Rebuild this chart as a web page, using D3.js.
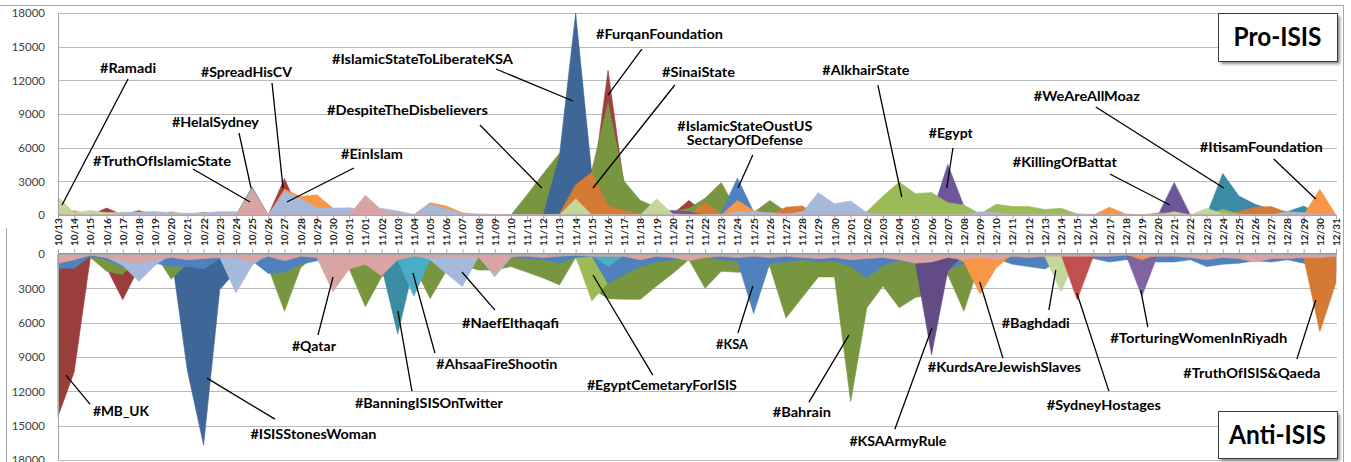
<!DOCTYPE html>
<html><head><meta charset="utf-8">
<script src="https://cdn.jsdelivr.net/npm/d3@7"></script>
<style>
body{margin:0;background:#fff}
svg{display:block}
text{font-family:Lato,"Open Sans",sans-serif}
</style></head>
<body><svg id="c" width="1351" height="462"></svg>
<script>
// ---------- categories ----------
const dates = ["10/13","10/14","10/15","10/16","10/17","10/18","10/19","10/20","10/21","10/22","10/23","10/24","10/25","10/26","10/27","10/28","10/29","10/30","10/31",
"11/01","11/02","11/03","11/04","11/05","11/06","11/07","11/08","11/09","11/10","11/11","11/12","11/13","11/14","11/15","11/16","11/17","11/18","11/19","11/20","11/21","11/22","11/23","11/24","11/25","11/26","11/27","11/28","11/29","11/30",
"12/01","12/02","12/03","12/04","12/05","12/06","12/07","12/08","12/09","12/10","12/11","12/12","12/13","12/14","12/15","12/16","12/17","12/18","12/19","12/20","12/21","12/22","12/23","12/24","12/25","12/26","12/27","12/28","12/29","12/30","12/31"];
const yTicks = [0,3000,6000,9000,12000,15000,18000];

// ---------- Pro-ISIS series (date, tweets); days not listed = 0 ----------
const proRed = [["10/16",620],["10/18",400],["10/27",3250],["11/15",2000],["11/16",12900],["11/17",2500],["11/20",100],["11/21",1300],["11/22",200]];
const proOlive = [["10/22",250],["11/11",1800],["11/12",3700],["11/13",5500],["11/14",4800],["11/15",4000],["11/16",10000],["11/17",3000],["11/18",1300],["11/19",700],["11/20",300],["11/21",600],["11/22",1500],["11/23",2900],["11/24",300],["11/25",200],["11/26",1300],["11/27",300],["11/28",100]];
const proDarkBlue = [["11/13",5300],["11/14",18000],["11/15",3600]];
const proBlue = [["11/23",200],["11/24",3300],["11/25",300]];
const proTeal = [["10/25",2500],["12/24",3700],["12/25",1700],["12/26",950],["12/27",500],["12/28",300],["12/29",800]];
const proDarkOrange = [["11/13",100],["11/14",2700],["11/15",3800],["11/16",800],["11/17",400],["11/18",100],["11/22",1100],["11/23",100],["11/27",700],["11/28",800],["12/25",300],["12/26",700],["12/27",750],["12/28",200]];
const proOrange = [["10/14",400],["10/20",300],["10/27",2300],["10/28",1650],["10/29",1800],["10/30",600],["11/05",1100],["11/06",800],["11/07",200],["11/24",1300],["11/25",400],["12/07",450],["12/08",100],["12/17",700],["12/18",100],["12/30",2300]];
const proPurple = [["11/19",300],["11/20",400],["11/21",300],["12/07",4500],["12/08",800],["12/21",2900]];
const proGreen = [["10/16",200],["12/02",300],["12/03",1700],["12/04",2950],["12/05",1900],["12/06",2000],["12/07",1100],["12/08",900],["12/09",100],["12/10",950],["12/11",750],["12/12",750],["12/13",500],["12/14",600],["12/15",100],["12/20",200],["12/21",100],["12/24",500],["12/25",100]];
const proSage = [["10/13",1600],["10/14",200],["10/15",400],["10/16",200],["10/17",250],["10/18",250],["10/19",300],["10/20",150],["10/21",100],["10/22",100],["11/14",1450],["11/19",1450],["11/20",100],["11/28",300],["11/29",100],["12/21",300],["12/23",600],["12/24",100]];
const proBlueGray = [["10/17",200],["10/18",250],["10/19",300],["10/20",200],["10/21",150],["10/22",200],["10/23",300],["10/24",300],["10/25",300],["10/27",2100],["10/28",1450],["10/29",650],["10/30",600],["10/31",650],["11/01",400],["11/02",600],["11/03",350],["11/04",50],["11/05",950],["11/06",550],["11/07",150],["11/08",100],["11/09",50],["11/10",50],["11/24",300],["11/25",300],["11/26",200],["11/27",100],["11/28",200],["11/29",2000],["11/30",1000],["12/01",1250],["12/02",200],["12/09",300],["12/10",200],["12/15",100],["12/16",50],["12/28",300],["12/29",200]];
const proPink = [["10/25",2350],["11/01",1750],["11/02",450]];

// ---------- Anti-ISIS series ----------
const antiRed = [["10/13",14200],["10/14",10300],["10/15",300],["10/16",1200],["10/17",4000],["10/18",1200]];
const antiDarkBlue = [["10/21",10200],["10/22",16700],["10/23",3100],["10/24",1500]];
const antiOlive = [["10/15",300],["10/16",1500],["10/17",1800],["10/18",200],["10/20",2200],["10/21",800],["10/26",1200],["10/27",5000],["10/28",1200],["10/31",1300],["11/01",4600],["11/02",2000],["11/03",1000],["11/04",1000],["11/05",3900],["11/06",1500],["11/07",1000],["11/08",1400],["11/09",1400],["11/10",1100],["11/11",1600],["11/12",2100],["11/13",2700],["11/14",300],["11/15",3000],["11/16",3900],["11/17",3950],["11/18",3950],["11/19",2800],["11/20",1700],["11/21",500],["11/22",3000],["11/23",1500],["11/24",1600],["11/25",1500],["11/26",1100],["11/27",5600],["11/28",3800],["11/29",2000],["11/30",2000],["12/01",12900],["12/02",4700],["12/03",2800],["12/04",4700],["12/05",3800],["12/06",3500],["12/07",1800],["12/08",5000],["12/09",700]];
const antiGreen = [["11/14",200],["11/15",4100],["11/16",2500]];
const antiTeal = [["11/02",1100],["11/03",7000],["11/04",1000]];
const antiBlue = [["10/13",1250],["10/14",1250],["10/15",200],["10/16",500],["10/17",1100],["10/18",500],["10/19",800],["10/20",1100],["10/21",1100],["10/22",1300],["10/23",400],["10/24",200],["10/25",600],["10/26",1700],["10/27",1600],["10/28",900],["10/29",600],["10/30",300],["10/31",300],["11/01",200],["11/02",200],["11/03",600],["11/04",400],["11/05",700],["11/06",200],["11/07",100],["11/08",300],["11/09",200],["11/10",300],["11/11",400],["11/12",500],["11/13",800],["11/14",300],["11/15",200],["11/16",2600],["11/17",1800],["11/18",1100],["11/19",700],["11/20",500],["11/21",400],["11/22",300],["11/23",500],["11/24",600],["11/25",5200],["11/26",800],["11/27",700],["11/28",500],["11/29",700],["11/30",600],["12/01",1100],["12/02",2100],["12/03",1000],["12/04",600],["12/05",800],["12/06",1300],["12/07",1400],["12/08",800],["12/09",500],["12/10",400],["12/11",900],["12/12",1100],["12/13",1300],["12/14",500],["12/15",300],["12/16",400],["12/17",700],["12/18",500],["12/19",600],["12/20",700],["12/21",700],["12/22",500],["12/23",1100],["12/24",900],["12/25",800],["12/26",600],["12/27",700],["12/28",500],["12/29",800],["12/30",1500],["12/31",1700]];
const antiAqua = [["11/02",200],["11/03",600],["11/04",3700],["11/05",500],["11/15",100],["11/16",1100],["11/17",100]];
const antiBlueGray = [["10/16",300],["10/17",1000],["10/18",2400],["10/19",1000],["10/23",300],["10/24",3400],["10/25",1000],["11/05",500],["11/06",1700],["11/07",2850],["11/08",200],["11/09",2000],["11/10",300]];
const antiDarkPurple = [["12/05",800],["12/06",8800],["12/07",1500]];
const antiPurple = [["12/19",3700]];
const antiOrange = [["12/08",700],["12/09",3500],["12/10",1200],["12/19",500]];
const antiSage = [["12/13",200],["12/14",3300],["12/15",200]];
const antiRed2 = [["12/15",4000],["12/16",200]];
const antiDarkOrange = [["12/29",300],["12/30",6800],["12/31",2500]];
const antiPink = [["10/13",800],["10/14",500],["10/15",100],["10/16",300],["10/17",600],["10/18",800],["10/19",500],["10/20",300],["10/21",500],["10/22",400],["10/23",300],["10/24",300],["10/25",700],["10/26",200],["10/27",600],["10/28",200],["10/29",300],["10/30",3300],["10/31",1300],["11/01",900],["11/02",1900],["11/03",500],["11/04",200],["11/05",300],["11/06",200],["11/07",300],["11/08",300],["11/09",1800],["11/10",200],["11/11",200],["11/12",300],["11/13",200],["11/14",100],["11/15",200],["11/16",200],["11/17",200],["11/18",500],["11/19",200],["11/20",300],["11/21",600],["11/22",300],["11/23",200],["11/24",300],["11/25",200],["11/26",300],["11/27",200],["11/28",300],["11/29",400],["11/30",300],["12/01",500],["12/02",400],["12/03",300],["12/04",500],["12/05",800],["12/06",700],["12/07",300],["12/08",500],["12/09",300],["12/10",500],["12/11",200],["12/12",300],["12/13",200],["12/14",200],["12/15",200],["12/16",200],["12/17",200],["12/18",100],["12/19",200],["12/20",200],["12/21",200],["12/22",300],["12/23",500],["12/24",300],["12/25",400],["12/26",700],["12/27",400],["12/28",400],["12/29",300],["12/30",300],["12/31",200]];

// ---------- annotations: [label, labelDayIndex, labelValue, lineStartDay, lineStartValue, lineEndDay, lineEndValue] ----------
const proNotes = [
 ["#Ramadi",4.33,12652,4.33,12118,0.25,891],
 ["#SpreadHisCV",11.65,12296,13.23,11761,13.91,2406],
 ["#HelalSydney",9.73,7841,11.19,7306,11.93,2406],
 ["#TruthOfIslamicState",6.43,4366,8.34,4099,11.87,1158],
 ["#EinIslam",19.41,4990,18.29,4188,14.15,1158],
 ["#IslamicStateToLiberateKSA",22.53,13454,27.07,13009,31.83,10157],
 ["#DespiteTheDisbelievers",21.6,8910,26.08,8019,29.91,2406],
 ["#FurqanFoundation",37.18,15682,36.09,14791,33.99,10692],
 ["#SinaiState",39.59,12296,38.13,11583,33.07,2406],
 ["#IslamicStateOustUS|SectaryOfDefense",42.46,7484,42.95,5346,42.03,2406],
 ["#AlkhairState",49.94,12474,50.68,11583,52.16,1604],
 ["#Egypt",55.19,6861,55.32,5970,54.94,2406],
 ["#KillingOfBattat",62.24,4277,65.02,3653,68.73,891],
 ["#WeAreAllMoaz",63.6,10157,64.15,9623,72.06,2406],
 ["#ItisamFoundation",74.38,5613,75.15,4990,77.75,1426]
];
const antiNotes = [
 ["#MB_UK",3.89,14169,1.98,13119,0.49,10583],
 ["#ISISStonesWoman",15.79,16180,13.41,14431,9.21,10845],
 ["#Qatar",15.82,8484,16.07,7084,17.0,2012],
 ["#BanningISISOnTwitter",22.93,13469,21.88,11982,21.01,4985],
 ["#AhsaaFireShootin",27.13,10058,23.3,8659,21.94,1662],
 ["#NaefElthaqafi",27.97,6472,27.01,4898,24.97,1574],
 ["#EgyptCemetaryForISIS",37.33,11895,36.77,10583,33.07,1837],
 ["#KSA",41.66,8309,42.03,6909,42.95,2799],
 ["#Bahrain",45.98,14256,46.42,12944,48.89,7084],
 ["#KSAArmyRule",51.92,16792,51.73,15306,54.02,6472],
 ["#KurdsAreJewishSlaves",58.5,10320,58.41,9095,56.98,2449],
 ["#Baghdadi",60.44,6472,61.25,4898,61.68,1399],
 ["#SydneyHostages",64.65,13644,64.96,11982,62.98,3411],
 ["#TorturingWomenInRiyadh",70.52,7784,67.37,6385,66.93,3149],
 ["#TruthOfISIS&Qaeda",73.8,10845,76.58,9183,77.75,4023]
];

// ---------- layout & styles ----------
const labelWidth = {"#Ramadi":56,"#SpreadHisCV":91,"#HelalSydney":87,"#TruthOfIslamicState":138,"#EinIslam":62,"#IslamicStateToLiberateKSA":181,"#DespiteTheDisbelievers":161,"#FurqanFoundation":127,"#SinaiState":73,"#IslamicStateOustUS":135,"SectaryOfDefense":116,"#AlkhairState":87,"#Egypt":44,"#KillingOfBattat":104,"#WeAreAllMoaz":106,"#ItisamFoundation":123,
"#MB_UK":56,"#ISISStonesWoman":126,"#Qatar":44,"#BanningISISOnTwitter":148,"#AhsaaFireShootin":121,"#NaefElthaqafi":97,"#EgyptCemetaryForISIS":150,"#KSA":32,"#Bahrain":58,"#KSAArmyRule":97,"#KurdsAreJewishSlaves":153,"#Baghdadi":68,"#SydneyHostages":114,"#TorturingWomenInRiyadh":177,"#TruthOfISIS&Qaeda":137};

const proSeries = [
 [proRed,"#A0403D"],[proOlive,"#78963F"],[proDarkBlue,"#3E6797"],[proBlue,"#4F81BD"],[proTeal,"#3A8BA3"],
 [proDarkOrange,"#D47A34"],[proOrange,"#F79646"],[proPurple,"#6F5698"],[proGreen,"#9BBB59"],[proSage,"#C4D79B"],
 [proBlueGray,"#A6B9DB"],[proPink,"#D9A5A4"]];
const antiSeries = [
 [antiRed,"#993E3B"],[antiDarkBlue,"#3E6797"],[antiOlive,"#78963F"],[antiGreen,"#9BBB59"],[antiTeal,"#3A8BA3"],
 [antiBlue,"#4F81BD"],[antiAqua,"#4BACC6"],[antiBlueGray,"#A6B9DB"],[antiDarkPurple,"#634C86"],[antiPurple,"#8064A2"],
 [antiOrange,"#F79646"],[antiSage,"#C4D79B"],[antiRed2,"#C0504D"],[antiDarkOrange,"#D47A34"],[antiPink,"#D9A5A4"]];

const svg = d3.select("#c");
const X0 = 58, X1 = 1336;
const x = d3.scalePoint().domain(dates).range([X0, X1]);
const xi = d3.scaleLinear().domain([0, dates.length - 1]).range([X0, X1]);
const yTop = d3.scaleLinear().domain([0, 18000]).range([215, 13]);
const yBot = d3.scaleLinear().domain([0, 18000]).range([254, 460]);
const full = pairs => { const m = new Map(pairs); return dates.map(d => m.has(d) ? m.get(d) : 0); };

// frame
svg.append("line").attr("x1",0).attr("x2",1343).attr("y1",5.5).attr("y2",5.5).attr("stroke","#A6A6A6");
svg.append("line").attr("x1",1343.5).attr("x2",1343.5).attr("y1",5).attr("y2",462).attr("stroke","#A6A6A6");
svg.append("line").attr("x1",6.5).attr("x2",6.5).attr("y1",228).attr("y2",462).attr("stroke","#A6A6A6");

// gridlines
const grid = svg.append("g").attr("stroke","#B9B9B9").attr("stroke-width",1);
yTicks.filter(v=>v>0).forEach(v=>{
  grid.append("line").attr("x1",X0).attr("x2",X1+1).attr("y1",Math.round(yTop(v))+0.5).attr("y2",Math.round(yTop(v))+0.5);
  grid.append("line").attr("x1",X0).attr("x2",X1+1).attr("y1",Math.round(yBot(v))+0.5).attr("y2",Math.round(yBot(v))+0.5);
});

// areas
function drawAreas(series, y){
  const g = svg.append("g");
  series.forEach(([pairs,color])=>{
    const vals = full(pairs);
    const area = d3.area().x((v,i)=>x(dates[i])).y0(y(0)).y1(v=>y(v));
    g.append("path").attr("d",area(vals)).attr("fill",color).attr("stroke",color).attr("stroke-width",0.6).attr("stroke-linejoin","round");
  });
}
drawAreas(proSeries, yTop);
drawAreas(antiSeries, yBot);

// axes
const fmt = d3.format("d");
const yAxT = svg.append("g").attr("transform",`translate(${X0},0)`).call(d3.axisLeft(yTop).tickValues(yTicks).tickFormat(fmt).tickSize(0).tickPadding(13));
const yAxB = svg.append("g").attr("transform",`translate(${X0},0)`).call(d3.axisLeft(yBot).tickValues(yTicks).tickFormat(fmt).tickSize(0).tickPadding(13));
[yAxT,yAxB].forEach(a=>{ a.select(".domain").attr("stroke","#A6A6A6"); a.selectAll("text").attr("font-size",11.5).attr("fill","#404040").attr("font-family","Lato"); });

const xAx = svg.append("g").attr("transform",`translate(0,${yTop(0)})`).call(d3.axisBottom(x).tickSize(4).tickPadding(0));
xAx.select(".domain").attr("stroke","#A6A6A6").attr("d",`M${X0},0.5H${X1+1}`);
xAx.selectAll(".tick line").attr("stroke","#A6A6A6");
xAx.selectAll(".tick text").attr("font-size",10).attr("font-weight","bold").attr("fill","#222")
   .attr("text-anchor","start").attr("transform","translate(0,31) rotate(-90)").attr("x",0).attr("y",0).attr("dy","0.35em");

const xAx2 = svg.append("g").attr("transform",`translate(0,${yBot(0)})`).call(d3.axisTop(x).tickSize(5).tickFormat(""));
xAx2.select(".domain").attr("stroke","#A6A6A6").attr("d",`M${X0},0.5H${X1+1}`);
xAx2.selectAll(".tick line").attr("stroke","#A6A6A6");

// annotations
function drawNotes(notes, y){
  const g = svg.append("g");
  notes.forEach(([txt,ld,lv,sd,sv,ed,ev])=>{
    g.append("line").attr("x1",xi(sd)).attr("y1",y(sv)).attr("x2",xi(ed)).attr("y2",y(ev)).attr("stroke","#000").attr("stroke-width",1.3);
    const parts = txt.split("|");
    const fs = parts.length > 1 ? 12.5 : 14;
    parts.forEach((t,k)=>{
      const el = g.append("text").attr("x",xi(ld)).attr("y",y(lv)).attr("dy",k*14).attr("text-anchor","middle")
        .attr("font-size",fs).attr("font-weight","bold").attr("fill","#000").text(t);
      if(labelWidth[t]) el.attr("textLength",labelWidth[t]).attr("lengthAdjust","spacingAndGlyphs");
    });
  });
}
drawNotes(proNotes, yTop);
drawNotes(antiNotes, yBot);

// legend boxes
const defs = svg.append("defs");
defs.append("filter").attr("id","sh").attr("x","-20%").attr("y","-20%").attr("width","150%").attr("height","150%")
  .append("feGaussianBlur").attr("stdDeviation",1.5);
function box(bx,by,bw,bh,label,tw){
  svg.append("rect").attr("x",bx+3).attr("y",by+3).attr("width",bw).attr("height",bh).attr("fill","#8c8c8c").attr("filter","url(#sh)");
  svg.append("rect").attr("x",bx+0.5).attr("y",by+0.5).attr("width",bw).attr("height",bh).attr("fill","#fff").attr("stroke","#3a3a3a").attr("stroke-width",1);
  svg.append("text").attr("x",bx+bw/2).attr("y",by+bh/2+9).attr("text-anchor","middle").attr("font-size",26).attr("font-weight","bold")
    .attr("fill","#000").attr("textLength",tw).attr("lengthAdjust","spacingAndGlyphs").text(label);
}
box(1218,13,119,48,"Pro-ISIS",88);
box(1218,411,119,47,"Anti-ISIS",97);
</script></body></html>
